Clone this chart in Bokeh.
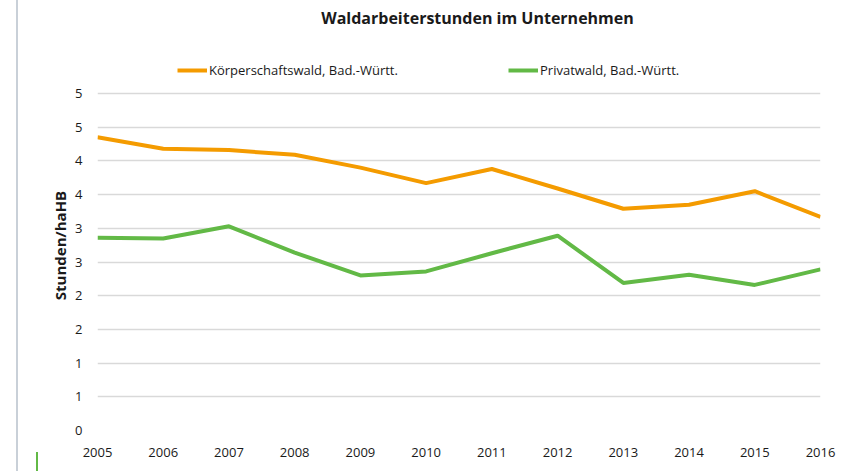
from bokeh.plotting import figure
from bokeh.models import ColumnDataSource, Legend, LegendItem, FixedTicker, Label
from bokeh.embed import file_html
from bokeh.resources import INLINE

title_text = "Waldarbeiterstunden im Unternehmen"
y_axis_title = "Stunden/haHB"
years = [2005, 2006, 2007, 2008, 2009, 2010, 2011, 2012, 2013, 2014, 2015, 2016]
series_names = ["Körperschaftswald, Bad.-Württ.", "Privatwald, Bad.-Württ."]
koerperschaftswald = [4.35, 4.18, 4.16, 4.09, 3.90, 3.67, 3.88, 3.59, 3.29, 3.35, 3.55, 3.17]
privatwald = [2.86, 2.85, 3.03, 2.64, 2.30, 2.36, 2.63, 2.89, 2.19, 2.31, 2.16, 2.39]
y_ticks = [0, 0.5, 1, 1.5, 2, 2.5, 3, 3.5, 4, 4.5, 5]
y_tick_labels = ["0", "1", "1", "2", "2", "3", "3", "4", "4", "5", "5"]
x_tick_labels = [str(y) for y in years]

FONT = "Open Sans"
ORANGE = "#F49B00"
GREEN = "#62B946"
TXT = "#1a1a1a"

src = ColumnDataSource(dict(x=years, k=koerperschaftswald, p=privatwald))

page_styles = {
    "background-color": "white",
    "background-image": f"linear-gradient({GREEN},{GREEN}), linear-gradient(#c9d0d8,#c9d0d8)",
    "background-size": "2px 19px, 2px 100%",
    "background-position": "36px 452px, 16px 0px",
    "background-repeat": "no-repeat",
}

# frame spans page y 0..430; the value axis 0..5 occupies its lower 337 px,
# the top part holds title and legend
y_top = y_ticks[-1] * 430 / 337

p = figure(width=858, height=471, output_backend="svg", toolbar_location=None,
           x_range=(years[0], years[-1]), y_range=(y_ticks[0], y_top),
           min_border_left=97, min_border_right=38, min_border_top=0, min_border_bottom=41,
           styles=page_styles)
p.outline_line_color = None
p.background_fill_color = "white"
p.border_fill_alpha = 0

r1 = p.line("x", "k", source=src, line_color=ORANGE, line_width=4)
r2 = p.line("x", "p", source=src, line_color=GREEN, line_width=4)

p.xgrid.grid_line_color = None
p.ygrid.grid_line_color = "#d9d9d9"
p.ygrid.grid_line_width = 1.4

p.yaxis.ticker = FixedTicker(ticks=y_ticks)
p.yaxis.major_label_overrides = {t: l for t, l in zip(y_ticks, y_tick_labels)}
p.xaxis.ticker = FixedTicker(ticks=years)
p.xaxis.major_label_overrides = {y: l for y, l in zip(years, x_tick_labels)}
for ax in (p.xaxis[0], p.yaxis[0]):
    ax.axis_line_color = None
    ax.major_tick_line_color = None
    ax.minor_tick_line_color = None
    ax.major_label_text_font = FONT
    ax.major_label_text_font_size = "13px"
    ax.major_label_text_color = TXT
p.yaxis.major_label_standoff = 9
p.xaxis.major_label_standoff = 11
p.yaxis.axis_label = y_axis_title + "\u2003" * 4
p.yaxis.axis_label_text_font = FONT
p.yaxis.axis_label_text_font_style = "bold"
p.yaxis.axis_label_text_font_size = "15px"
p.yaxis.axis_label_text_color = TXT
p.yaxis.axis_label_standoff = 2

p.add_layout(Label(x=380, y=413, x_units="screen", y_units="screen", text=title_text,
                   text_align="center", text_baseline="middle", text_font=FONT,
                   text_font_style="bold", text_font_size="16px", text_color=TXT))

legend = Legend(items=[LegendItem(label=series_names[0], renderers=[r1]),
                       LegendItem(label=series_names[1], renderers=[r2])],
                location=(80, 350), orientation="horizontal", padding=0, margin=0,
                border_line_color=None, background_fill_alpha=0,
                glyph_width=30, glyph_height=20, label_height=20, label_width=210,
                label_standoff=2, spacing=89, label_text_font=FONT,
                label_text_font_size="13px", label_text_color=TXT)
p.add_layout(legend, "center")

open("out.html", "w").write(file_html(p, INLINE))
